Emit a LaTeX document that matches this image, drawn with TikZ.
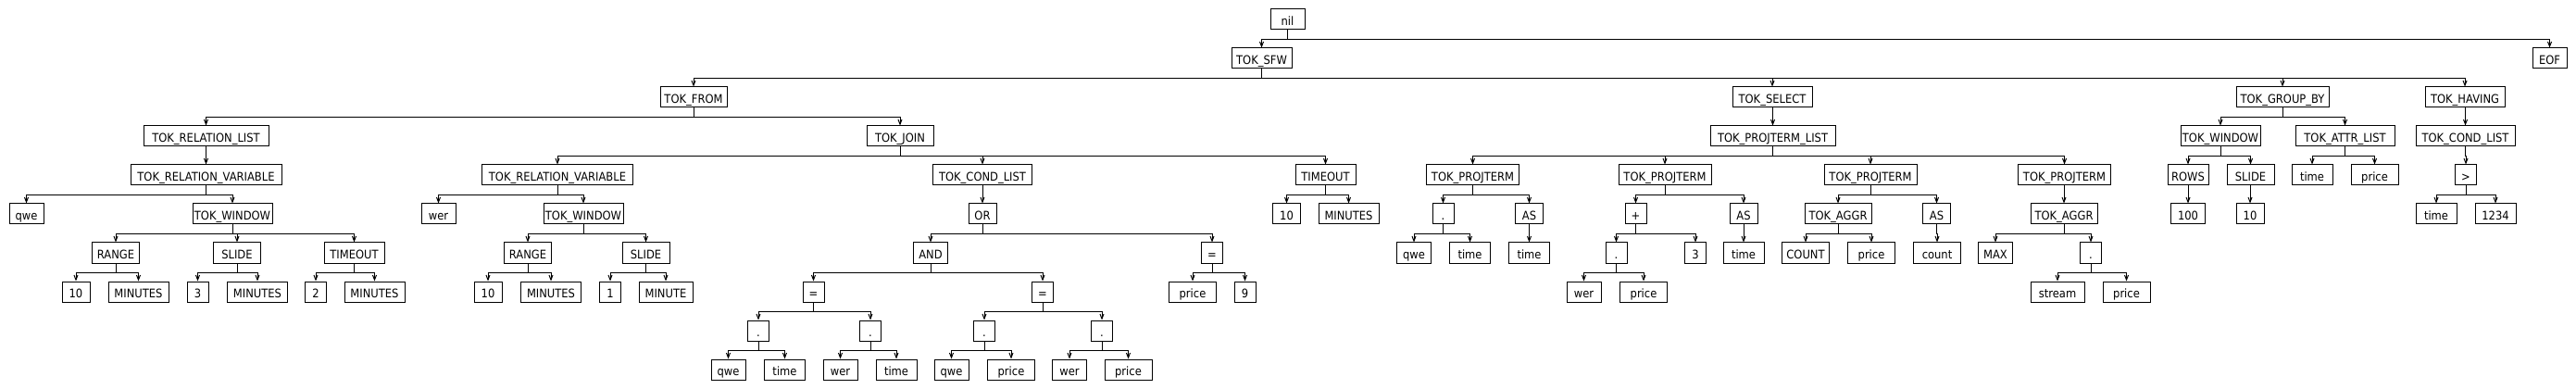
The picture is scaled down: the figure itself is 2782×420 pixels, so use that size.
\documentclass[tikz,border=0pt]{standalone}
\usepackage{fontspec}
\setmainfont{DejaVu Sans}[FakeStretch=0.9]
\usetikzlibrary{arrows.meta}
\newcommand\bx[5]{\node[box,minimum width={#4*0.75pt}] (#1) at ({#2},{21+42*#3}) {#5};}
\newcommand\kids[2]{\foreach \c in {#2}{\draw[link] (#1.south) -- ++(0,10) -| (\c.north);}}
\begin{document}
\begin{tikzpicture}[x=0.75pt,y=-0.75pt,
  box/.style={draw, line width=0.75pt, minimum height=16.5pt, inner sep=0pt,
    text height=10pt, text depth=0pt, font=\fontsize{9.6}{11}\selectfont},
  link/.style={line width=0.75pt, -{Straight Barb[length=3.8pt,width=3pt]}}]
\fill[white] (0,0) rectangle (2782,420);
\useasboundingbox (0,0) rectangle (2782,420);
% level 0
\bx{nnil}{1390.5}{0}{37}{nil}
% level 1
\bx{sfw}{1362.5}{1}{65}{TOK\_SFW}
\bx{eof}{2753.5}{1}{37}{EOF}
% level 2
\bx{from}{749}{2}{72}{TOK\_FROM}
\bx{sel}{1914}{2}{86}{TOK\_SELECT}
\bx{gby}{2465}{2}{100}{TOK\_GROUP\_BY}
\bx{hav}{2662}{2}{86}{TOK\_HAVING}
% level 3
\bx{rl}{222.5}{3}{135}{TOK\_RELATION\_LIST}
\bx{join}{972}{3}{72}{TOK\_JOIN}
\bx{pl}{1914.5}{3}{135}{TOK\_PROJTERM\_LIST}
\bx{gw}{2398}{3}{86}{TOK\_WINDOW}
\bx{al}{2532.5}{3}{107}{TOK\_ATTR\_LIST}
\bx{hcl}{2662.5}{3}{107}{TOK\_COND\_LIST}
% level 4
\bx{rvone}{222.5}{4}{163}{TOK\_RELATION\_VARIABLE}
\bx{rvtwo}{602}{4}{163}{TOK\_RELATION\_VARIABLE}
\bx{jcl}{1061}{4}{107}{TOK\_COND\_LIST}
\bx{jto}{1431.5}{4}{65}{TIMEOUT}
\bx{ptone}{1590.5}{4}{100}{TOK\_PROJTERM}
\bx{pttwo}{1798}{4}{100}{TOK\_PROJTERM}
\bx{ptthree}{2020}{4}{100}{TOK\_PROJTERM}
\bx{ptfour}{2229.5}{4}{100}{TOK\_PROJTERM}
\bx{rows}{2363}{4}{44}{ROWS}
\bx{gsl}{2430.5}{4}{51}{SLIDE}
\bx{atime}{2497}{4}{44}{time}
\bx{aprice}{2564.5}{4}{51}{price}
\bx{gt}{2663}{4}{23}{>}
% level 5
\bx{qone}{28.5}{5}{37}{qwe}
\bx{wone}{251}{5}{86}{TOK\_WINDOW}
\bx{werone}{473.5}{5}{37}{wer}
\bx{wtwo}{630}{5}{86}{TOK\_WINDOW}
\bx{nor}{1061}{5}{30}{OR}
\bx{jtten}{1389.5}{5}{30}{10}
\bx{jtmin}{1456.5}{5}{65}{MINUTES}
\bx{dotone}{1558.5}{5}{23}{.}
\bx{asone}{1651.5}{5}{30}{AS}
\bx{plus}{1766.5}{5}{23}{+}
\bx{astwo}{1883}{5}{30}{AS}
\bx{agthree}{1985}{5}{72}{TOK\_AGGR}
\bx{asthree}{2091.5}{5}{30}{AS}
\bx{agfour}{2229}{5}{72}{TOK\_AGGR}
\bx{rhundred}{2363}{5}{37}{100}
\bx{sten}{2430}{5}{30}{10}
\bx{htime}{2631}{5}{44}{time}
\bx{hnum}{2695}{5}{44}{1234}
% level 6
\bx{rone}{125}{6}{51}{RANGE}
\bx{sone}{256}{6}{51}{SLIDE}
\bx{tone}{382.5}{6}{65}{TIMEOUT}
\bx{rtwo}{570}{6}{51}{RANGE}
\bx{stwo}{697.5}{6}{51}{SLIDE}
\bx{nand}{1005}{6}{37}{AND}
\bx{eqthree}{1309}{6}{23}{=}
\bx{qwetwo}{1527}{6}{37}{qwe}
\bx{timetwo}{1587.5}{6}{44}{time}
\bx{timethree}{1651.5}{6}{44}{time}
\bx{dottwo}{1745.5}{6}{23}{.}
\bx{three}{1831}{6}{23}{3}
\bx{timefour}{1883}{6}{44}{time}
\bx{cnt}{1950}{6}{51}{COUNT}
\bx{prthree}{2021}{6}{51}{price}
\bx{cnttwo}{2092}{6}{51}{count}
\bx{max}{2155}{6}{37}{MAX}
\bx{dotthree}{2258}{6}{23}{.}
% level 7
\bx{aten}{82}{7}{30}{10}
\bx{amone}{149.5}{7}{65}{MINUTES}
\bx{athree}{213.5}{7}{23}{3}
\bx{amtwo}{278}{7}{65}{MINUTES}
\bx{atwo}{341}{7}{23}{2}
\bx{amthree}{404.5}{7}{65}{MINUTES}
\bx{bten}{527}{7}{30}{10}
\bx{bmone}{595}{7}{65}{MINUTES}
\bx{bone}{659}{7}{23}{1}
\bx{bmtwo}{719}{7}{58}{MINUTE}
\bx{eqone}{878.5}{7}{23}{=}
\bx{eqtwo}{1126}{7}{23}{=}
\bx{pnine}{1288}{7}{51}{price}
\bx{nine}{1344.5}{7}{23}{9}
\bx{werthree}{1710.5}{7}{37}{wer}
\bx{prtwo}{1775}{7}{51}{price}
\bx{stream}{2222}{7}{58}{stream}
\bx{prfour}{2296.5}{7}{51}{price}
% level 8
\bx{dfour}{819}{8}{23}{.}
\bx{dfive}{940}{8}{23}{.}
\bx{dsix}{1063}{8}{23}{.}
\bx{dseven}{1190}{8}{23}{.}
% level 9
\bx{qa}{786.5}{9}{37}{qwe}
\bx{ta}{847.5}{9}{44}{time}
\bx{wa}{907.5}{9}{37}{wer}
\bx{tb}{968}{9}{44}{time}
\bx{qb}{1027.5}{9}{37}{qwe}
\bx{pa}{1092}{9}{51}{price}
\bx{wb}{1155}{9}{37}{wer}
\bx{pb}{1218.5}{9}{51}{price}
% connectors
\kids{nnil}{sfw,eof}
\kids{sfw}{from,sel,gby,hav}
\kids{from}{rl,join}
\kids{rl}{rvone}
\kids{rvone}{qone,wone}
\kids{wone}{rone,sone,tone}
\kids{rone}{aten,amone}
\kids{sone}{athree,amtwo}
\kids{tone}{atwo,amthree}
\kids{join}{rvtwo,jcl,jto}
\kids{rvtwo}{werone,wtwo}
\kids{wtwo}{rtwo,stwo}
\kids{rtwo}{bten,bmone}
\kids{stwo}{bone,bmtwo}
\kids{jcl}{nor}
\kids{nor}{nand,eqthree}
\kids{nand}{eqone,eqtwo}
\kids{eqone}{dfour,dfive}
\kids{eqtwo}{dsix,dseven}
\kids{dfour}{qa,ta}
\kids{dfive}{wa,tb}
\kids{dsix}{qb,pa}
\kids{dseven}{wb,pb}
\kids{eqthree}{pnine,nine}
\kids{jto}{jtten,jtmin}
\kids{sel}{pl}
\kids{pl}{ptone,pttwo,ptthree,ptfour}
\kids{ptone}{dotone,asone}
\kids{dotone}{qwetwo,timetwo}
\kids{asone}{timethree}
\kids{pttwo}{plus,astwo}
\kids{plus}{dottwo,three}
\kids{dottwo}{werthree,prtwo}
\kids{astwo}{timefour}
\kids{ptthree}{agthree,asthree}
\kids{agthree}{cnt,prthree}
\kids{asthree}{cnttwo}
\kids{ptfour}{agfour}
\kids{agfour}{max,dotthree}
\kids{dotthree}{stream,prfour}
\kids{gby}{gw,al}
\kids{gw}{rows,gsl}
\kids{rows}{rhundred}
\kids{gsl}{sten}
\kids{al}{atime,aprice}
\kids{hav}{hcl}
\kids{hcl}{gt}
\kids{gt}{htime,hnum}
\end{tikzpicture}
\end{document}
